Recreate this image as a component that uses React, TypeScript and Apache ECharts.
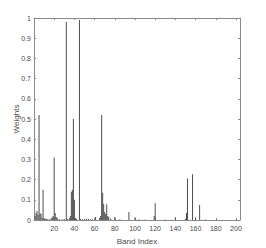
import React, { useEffect, useRef } from "react";
import * as echarts from "echarts";

const bandIndex = [
  1, 2, 3, 4, 5, 6, 7, 8, 9, 10, 11, 12, 13, 15, 17, 18, 19, 20, 21, 22, 23, 25, 28, 30,
  32, 33, 35, 36, 37, 38, 39, 40, 41, 42, 45, 46, 48, 50, 52, 54, 56, 58, 61, 65, 66,
  67, 68, 69, 70, 71, 72, 73, 74, 76, 80, 85, 94, 100, 104, 110, 119, 120, 130, 140,
  150, 151, 152, 157, 160, 164, 170,
];
const weights = [
  0.02, 0.035, 0.045, 0.025, 0.52, 0.035, 0.03, 0.01, 0.15, 0.01, 0.005, 0.008, 0.005,
  0.004, 0.01, 0.012, 0.02, 0.31, 0.035, 0.015, 0.01, 0.005, 0.004, 0.005,
  0.98, 0.005, 0.01, 0.02, 0.14, 0.15, 0.5, 0.1, 0.01, 0.005, 0.99, 0.005, 0.004, 0.005,
  0.006, 0.005, 0.004, 0.003, 0.015, 0.01, 0.02,
  0.52, 0.135, 0.08, 0.04, 0.03, 0.078, 0.02, 0.015, 0.008, 0.015, 0.004, 0.04, 0.013,
  0.004, 0.003, 0.02, 0.083, 0.003, 0.013,
  0.005, 0.035, 0.206, 0.226, 0.013, 0.074, 0.003,
];

const xTicks = [20, 40, 60, 80, 100, 120, 140, 160, 180, 200];
const yTickLabels = ["0", "0.1", "0.2", "0.3", "0.4", "0.5", "0.6", "0.7", "0.8", "0.9", "1"];

const FONT = "Liberation Sans";
const AXIS = "#8a8a8a";
const LABEL = "#4a4a4a";

export default function App() {
  const ref = useRef<HTMLDivElement>(null);
  useEffect(() => {
    if (!ref.current) return;
    const chart = echarts.init(ref.current, undefined, { renderer: "svg" });
    const data = bandIndex.map((b, i) => [b, weights[i]]);
    const xCommon = {
      type: "value" as const,
      min: 0,
      max: 204,
      interval: 20,
      splitLine: { show: false },
      axisLine: { show: true, onZero: false, lineStyle: { color: AXIS, width: 1 } },
      axisTick: { show: true, inside: true, length: 2, lineStyle: { color: AXIS } },
    };
    const yCommon = {
      type: "value" as const,
      min: 0,
      max: 1,
      interval: 0.1,
      splitLine: { show: false },
      axisLine: { show: true, onZero: false, lineStyle: { color: AXIS, width: 1 } },
      axisTick: { show: true, inside: true, length: 2, lineStyle: { color: AXIS } },
    };
    chart.setOption({
      animation: false,
      grid: { left: 34, right: 26, top: 18, bottom: 28, outerBoundsMode: "none", containLabel: false },
      xAxis: [
        {
          ...xCommon,
          position: "bottom",
          name: "Band Index",
          nameLocation: "middle",
          nameGap: 17,
          nameTextStyle: { fontFamily: FONT, fontSize: 8, color: LABEL },
          axisLabel: {
            fontFamily: FONT,
            fontSize: 7,
            color: LABEL,
            margin: 5,
            formatter: (v: number) => (xTicks.includes(v) ? String(v) : ""),
          },
        },
        { ...xCommon, position: "top", axisLabel: { show: false } },
      ],
      yAxis: [
        {
          ...yCommon,
          position: "left",
          name: "Weights",
          nameLocation: "middle",
          nameRotate: 90,
          nameGap: 18,
          nameMoveOverlap: false,
          nameTextStyle: { fontFamily: FONT, fontSize: 8, color: LABEL, verticalAlign: "middle" },
          axisLabel: {
            fontFamily: FONT,
            fontSize: 7,
            color: LABEL,
            margin: 3,
            formatter: (v: number) => yTickLabels[Math.round(v * 10)] ?? "",
          },
        },
        { ...yCommon, position: "right", axisLabel: { show: false } },
      ],
      series: [
        {
          type: "bar",
          xAxisIndex: 0,
          yAxisIndex: 0,
          data,
          barWidth: 1,
          itemStyle: { color: "#4d4d4d" },
        },
      ],
    });
    return () => chart.dispose();
  }, []);
  return (
    <div
      ref={ref}
      style={{ position: "fixed", left: 0, top: 0, width: 266, height: 248, background: "#fff" }}
    />
  );
}
